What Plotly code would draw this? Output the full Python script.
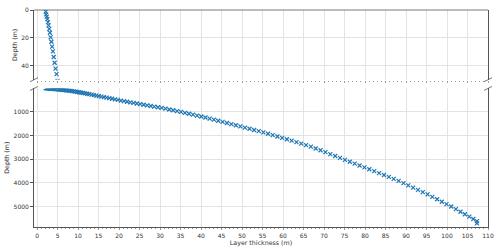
import plotly.graph_objects as go

thickness = [2.10, 2.22, 2.35, 2.50, 2.65, 2.80, 2.96, 3.13, 3.30, 3.48, 3.67, 3.86, 4.06, 4.28, 4.50, 4.75,
             5.00, 5.26, 5.53, 5.81, 6.10, 6.40, 6.72, 7.05, 7.40, 7.76, 8.14,
             8.53, 8.94, 9.36, 9.80, 10.25, 10.72, 11.20, 11.70, 12.22,
             12.75, 13.30, 13.87, 14.45, 15.05, 15.67, 16.30,
             16.95, 17.62, 18.30, 19.00, 19.72, 20.45, 21.20, 21.96,
             22.74, 23.53, 24.34, 25.16, 26.00,
             26.85, 27.72, 28.60, 29.50, 30.40,
             31.32, 32.25, 33.19, 34.14, 35.10,
             36.07, 37.05, 38.04, 39.04, 40.05, 41.07,
             42.10, 43.14, 44.19,
             45.25, 46.32, 47.40,
             48.49, 49.59, 50.70, 51.82, 52.94, 54.07, 55.20,
             56.34, 57.48, 58.63, 59.78, 60.94,
             62.10, 63.27, 64.44, 65.61, 66.79,
             67.97, 69.15, 70.34,
             71.53, 72.72, 73.91, 75.10,
             76.29, 77.48, 78.67, 79.86, 81.05,
             82.24, 83.43, 84.62, 85.81, 87.00, 88.19,
             89.38, 90.56, 91.74, 92.92, 94.09, 95.26,
             96.42, 97.58, 98.73, 99.88, 101.02, 102.16,
             103.29, 104.37, 105.43, 106.42, 107.30, 107.30]

depth = [1.2, 3.1, 4.8, 6.6, 8.7, 11.0, 13.5, 16.3, 19.6, 22.8, 26.3, 29.7, 33.7, 37.8, 42.0, 46.0,
         50.9, 56.0, 61.3, 66.8, 72.5, 78.4, 84.7, 91.2, 98.1, 105.2, 114.2,
         125.9, 138.2, 150.8, 164.0, 177.5, 191.6, 206.0, 221.0, 237.7,
         256.3, 275.5, 295.5, 315.8, 336.8, 358.5, 380.6,
         403.5, 427.1, 451.0, 475.6, 500.9, 526.6, 553.0, 577.5,
         601.9, 626.6, 651.9, 677.5, 703.1,
         728.8, 755.1, 781.7, 808.9, 837.1,
         869.8, 902.9, 936.3, 970.1, 1005.7,
         1043.7, 1082.1, 1120.9, 1160.1, 1199.7, 1241.3,
         1286.6, 1332.3, 1378.3,
         1424.7, 1471.5, 1519.0,
         1567.9, 1617.3, 1667.1, 1717.4, 1767.7, 1818.4, 1870.0,
         1927.0, 1984.0, 2041.5, 2099.0, 2159.2,
         2220.0, 2281.3, 2342.6, 2403.9, 2471.8,
         2548.3, 2624.8, 2703.1,
         2784.1, 2865.1, 2946.1, 3026.4,
         3105.8, 3185.2, 3264.6, 3344.0, 3423.4,
         3504.2, 3585.0, 3665.8, 3746.6, 3827.4, 3913.3,
         4008.7, 4103.3, 4197.9, 4292.5, 4386.3, 4485.5,
         4588.3, 4691.1, 4793.0, 4894.9, 4996.0, 5105.8,
         5216.2, 5321.7, 5425.3, 5522.1, 5614.0, 5708.0]

x_ticks = list(range(0, 111, 5))

MARK = "#1f77b4"
AXC = "#555555"
MINC = "#999999"
GRID = "#e3e3e3"
TXT = "#333333"
FONT = "DejaVu Sans"

fig = go.Figure()
marker = dict(symbol="x-thin", size=4, line=dict(width=1.2, color=MARK), color=MARK)
fig.add_trace(go.Scatter(x=thickness, y=depth, mode="markers", marker=marker,
                         xaxis="x2", yaxis="y2", showlegend=False))
fig.add_trace(go.Scatter(x=thickness, y=depth, mode="markers", marker=marker,
                         xaxis="x", yaxis="y", showlegend=False))

common_x = dict(range=[-0.75, 110], tickvals=x_ticks, ticks="outside", ticklen=2.5,
                tickcolor=MINC, tickwidth=0.7, showgrid=True, gridcolor=GRID, gridwidth=0.8,
                zeroline=False,
                minor=dict(dtick=1, tick0=0, ticks="outside", ticklen=1.2, tickcolor=MINC,
                           tickwidth=0.5, showgrid=False),
                tickfont=dict(family=FONT, size=6, color=TXT))

fig.update_layout(
    width=500, height=252,
    margin=dict(l=32, r=10, t=6.5, b=22),
    plot_bgcolor="white", paper_bgcolor="white",
    xaxis=dict(**common_x, anchor="y", showline=True, linecolor=AXC, linewidth=0.8,
               title=dict(text="Layer thickness (m)", font=dict(family=FONT, size=6.3, color=TXT),
                          standoff=2)),
    xaxis2=dict(**common_x, anchor="y2", matches="x", showline=False, showticklabels=False),
    yaxis=dict(domain=[0, 0.6385], range=[5860, 16], tick0=0, dtick=1000, ticks="outside",
               ticklen=3, tickcolor=AXC, tickwidth=0.8, showline=True, mirror=True,
               linecolor=AXC, linewidth=0.8, showgrid=True, gridcolor=GRID, gridwidth=0.8,
               zeroline=False, tickfont=dict(family=FONT, size=6, color=TXT),
               title=dict(text="Depth (m)", font=dict(family=FONT, size=6.3, color=TXT), standoff=3)),
    yaxis2=dict(domain=[0.6787, 1], range=[50, 0], tick0=0, dtick=20, ticks="outside",
                ticklen=3, tickcolor=AXC, tickwidth=0.8, showline=True, mirror=True,
                linecolor=AXC, linewidth=0.8, showgrid=True, gridcolor=GRID, gridwidth=0.8,
                zeroline=False, tickfont=dict(family=FONT, size=6, color=TXT),
                title=dict(text="Depth (m)", font=dict(family=FONT, size=6.3, color=TXT), standoff=3)),
)

# top spine of the upper panel
fig.add_shape(type="line", xref="x2 domain", yref="y2 domain", x0=0, x1=1, y0=1, y1=1,
              line=dict(color=AXC, width=0.8))

# broken-axis diagonal marks
for yref, yanc in (("y2 domain", 0), ("y domain", 1)):
    for xanc in (0, 1):
        fig.add_shape(type="line", xref="x domain", yref=yref,
                      xsizemode="pixel", xanchor=xanc, x0=-4, x1=4,
                      ysizemode="pixel", yanchor=yanc, y0=-2, y1=2,
                      line=dict(color=AXC, width=0.8))

fig.write_html("out.html")
